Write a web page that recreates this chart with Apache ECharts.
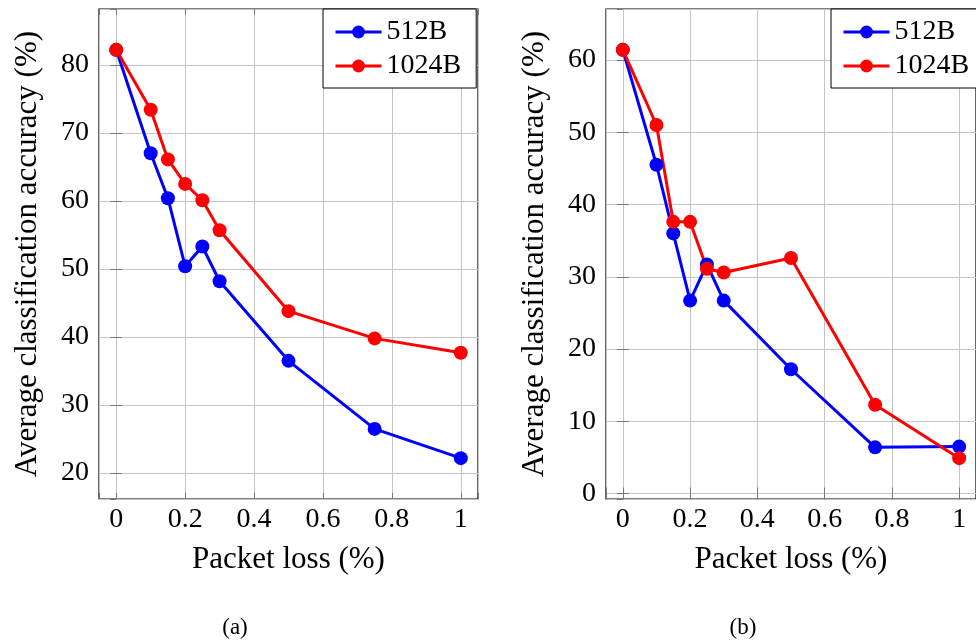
<!DOCTYPE html>
<html>
<head>
<meta charset="utf-8">
<script src="https://cdn.jsdelivr.net/npm/echarts@6/dist/echarts.min.js"></script>
<style>
html,body{margin:0;padding:0;background:#fff;}
#c{width:976px;height:642px;}
</style>
</head>
<body>
<div id="c"></div>
<script>
// ---- data ----
var packetLoss = [0, 0.1, 0.15, 0.2, 0.25, 0.3, 0.5, 0.75, 1];
var a512  = [82.2, 67.0, 60.4, 50.4, 53.3, 48.2, 36.5, 26.5, 22.2];
var a1024 = [82.2, 73.4, 66.1, 62.5, 60.1, 55.7, 43.8, 39.8, 37.7];
var b512  = [61.4, 45.5, 36.0, 26.7, 31.7, 26.7, 17.2, 6.4, 6.5];
var b1024 = [61.4, 51.0, 37.6, 37.6, 31.1, 30.6, 32.6, 12.3, 4.9];
var xTickLabels = [0, 0.2, 0.4, 0.6, 0.8, 1];
var seriesNames = ['512B', '1024B'];
var captions = ['(a)', '(b)'];
var xName = 'Packet loss (%)';
var yName = 'Average classification accuracy (%)';

var FONT = '"Liberation Serif", "DejaVu Serif", serif';
function pairs(xs, ys){ return xs.map(function(x,i){ return [x, ys[i]]; }); }
function enlarged(arrs){
  var all = [].concat.apply([], arrs);
  var mn = Math.min.apply(null, all), mx = Math.max.apply(null, all);
  var r = mx - mn;
  return [mn - 0.1*r, mx + 0.1*r];
}
var yA = enlarged([a512, a1024]);
var yB = enlarged([b512, b1024]);

var tickStyle = {show:true, inside:true, length:6, lineStyle:{color:'#777', width:1}};
var gridLine = {show:true, lineStyle:{color:'#c4c4c4', width:1}};

function mainX(gi){
  return {
    type:'value', gridIndex:gi, min:-0.05, max:1.05, position:'bottom',
    axisLine:{show:false}, axisTick:tickStyle, splitLine:gridLine,
    axisLabel:{show:true, customValues:xTickLabels, margin:7, fontSize:28, color:'#000', fontFamily:FONT},
    name:xName, nameLocation:'middle', nameGap:45,
    nameTextStyle:{fontSize:31, color:'#000', fontFamily:FONT}
  };
}
function topX(gi){
  return {
    type:'value', gridIndex:gi, min:-0.05, max:1.05, position:'top',
    axisLine:{show:false}, axisTick:tickStyle, splitLine:{show:false}, axisLabel:{show:false}
  };
}
function mainY(gi, ext){
  return {
    type:'value', gridIndex:gi, min:ext[0], max:ext[1], position:'left',
    axisLine:{show:false}, axisTick:tickStyle, splitLine:gridLine,
    axisLabel:{show:true, showMinLabel:false, showMaxLabel:false, margin:10, fontSize:28, color:'#000', fontFamily:FONT},
    name:yName, nameLocation:'middle', nameGap:56, nameRotate:90,
    nameTextStyle:{fontSize:31, color:'#000', fontFamily:FONT}
  };
}
function rightY(gi, ext){
  return {
    type:'value', gridIndex:gi, min:ext[0], max:ext[1], position:'right',
    axisLine:{show:false}, axisTick:tickStyle, splitLine:{show:false}, axisLabel:{show:false}
  };
}
function line(name, data, color, xi, yi){
  return {
    type:'line', name:name, data:data, xAxisIndex:xi, yAxisIndex:yi,
    symbol:'circle', symbolSize:14, showAllSymbol:true,
    lineStyle:{color:color, width:3}, itemStyle:{color:color},
    emphasis:{disabled:true}, animation:false, z:3
  };
}
function legend(left){
  return {
    orient:'vertical', left:left, top:9, data:seriesNames,
    backgroundColor:'#fff', borderColor:'#000', borderWidth:1, borderRadius:0,
    padding:[9,15,8,11], itemGap:6, itemWidth:46, itemHeight:16,
    lineStyle:{width:3},
    textStyle:{fontSize:28, color:'#000', fontFamily:FONT},
    selectedMode:false
  };
}

var chart = echarts.init(document.getElementById('c'), null, {renderer:'canvas'});
chart.setOption({
  animation:false,
  backgroundColor:'#fff',
  textStyle:{fontFamily:FONT},
  grid:[
    {left:99, top:9, width:379, height:490, show:true, borderColor:'#000', borderWidth:1.2, backgroundColor:'transparent', containLabel:false},
    {left:606, top:9, width:380, height:490, show:true, borderColor:'#000', borderWidth:1.2, backgroundColor:'transparent', containLabel:false}
  ],
  xAxis:[mainX(0), topX(0), mainX(1), topX(1)],
  yAxis:[mainY(0, yA), rightY(0, yA), mainY(1, yB), rightY(1, yB)],
  legend:[legend(323), legend(831)],
  series:[
    line(seriesNames[0], pairs(packetLoss, a512), '#0000ff', 0, 0),
    line(seriesNames[1], pairs(packetLoss, a1024), '#ff0000', 0, 0),
    line(seriesNames[0], pairs(packetLoss, b512), '#0000ff', 2, 2),
    line(seriesNames[1], pairs(packetLoss, b1024), '#ff0000', 2, 2)
  ],
  graphic:[
    {type:'text', x:235, y:628, style:{text:captions[0], align:'center', verticalAlign:'middle', fontSize:23, fontFamily:FONT, fill:'#000'}},
    {type:'text', x:743, y:628, style:{text:captions[1], align:'center', verticalAlign:'middle', fontSize:23, fontFamily:FONT, fill:'#000'}}
  ]
});
</script>
</body>
</html>
